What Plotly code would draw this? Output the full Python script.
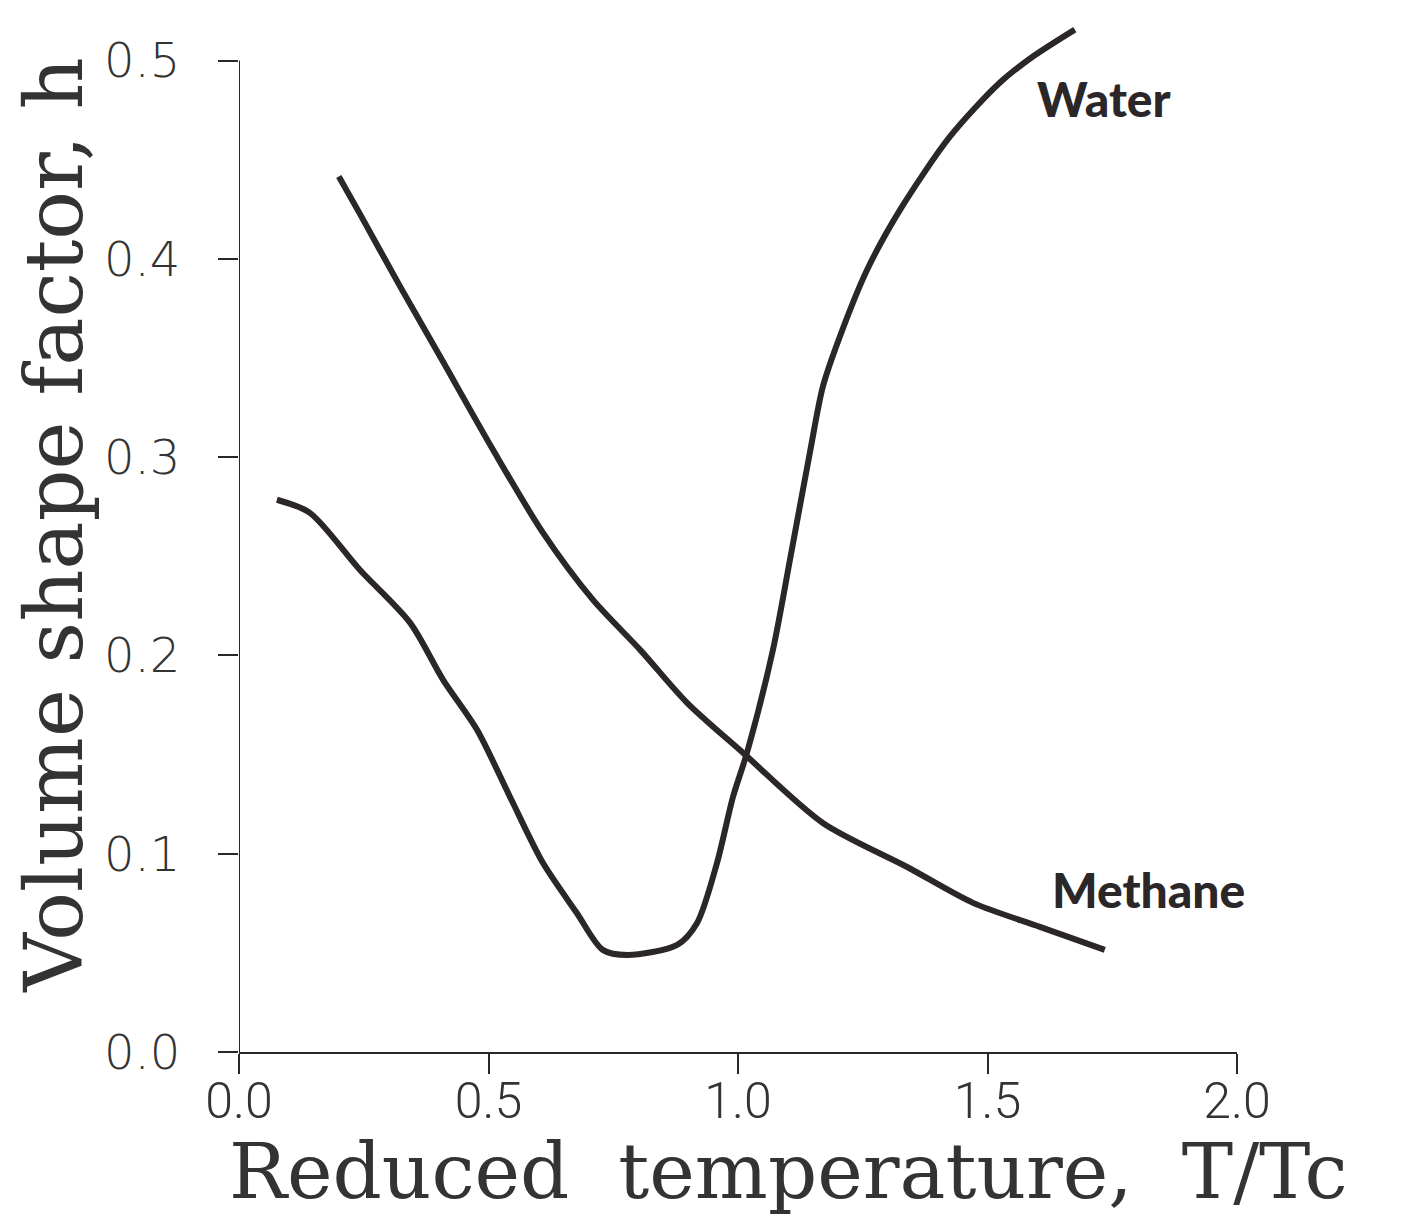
import plotly.graph_objects as go

# Reduced temperature T/Tc and volume shape factor h for each fluid
methane_t = [0.200, 0.242, 0.323, 0.403, 0.509, 0.609, 0.709, 0.804, 0.898,
             1.010, 1.170, 1.339, 1.471, 1.605, 1.735]
methane_h = [0.4415, 0.4228, 0.3860, 0.3507, 0.3037, 0.2619, 0.2281, 0.2028,
             0.1761, 0.1509, 0.1155, 0.0933, 0.0752, 0.0631, 0.0515]

water_t = [0.076, 0.142, 0.242, 0.343, 0.409, 0.477, 0.543, 0.609, 0.677,
           0.729, 0.778, 0.878, 0.918, 0.958, 0.990, 1.018, 1.070,
           1.106, 1.144, 1.170, 1.204, 1.259, 1.325, 1.425, 1.525, 1.591, 1.675]
water_h = [0.2785, 0.2719, 0.2432, 0.2164, 0.1877, 0.1625, 0.1287, 0.0954,
           0.0701, 0.0515, 0.0489, 0.0540, 0.0651, 0.0954, 0.1287, 0.1509,
           0.2028, 0.2508, 0.3022, 0.3355, 0.3607, 0.3946, 0.4248,
           0.4617, 0.4889, 0.5020, 0.5156]

x_ticks = [0.0, 0.5, 1.0, 1.5, 2.0]
x_tick_labels = ["0.0", "0.5", "1.0", "1.5", "2.0"]
y_ticks = [0.0, 0.1, 0.2, 0.3, 0.4, 0.5]
y_tick_labels = ["0.0", "0.1", "0.2", "0.3", "0.4", "0.5"]

INK = "#2b2628"
TEXT = "#333333"

fig = go.Figure()
for t, h in [(methane_t, methane_h), (water_t, water_h)]:
    fig.add_trace(go.Scatter(
        x=t, y=h, mode="lines",
        line=dict(color=INK, width=6, shape="spline", smoothing=0.8),
        showlegend=False, hoverinfo="skip",
    ))

# Curve labels
fig.add_annotation(x=1.733, y=0.481, text="Water", showarrow=False,
                   xanchor="center", yanchor="middle",
                   font=dict(family="Lato", size=48, color=INK, weight=900))
fig.add_annotation(x=1.822, y=0.0822, text="Methane", showarrow=False,
                   xanchor="center", yanchor="middle",
                   font=dict(family="Lato", size=48, color=INK, weight=900))

# Vertical axis line stops at the top tick
fig.add_shape(type="line", xref="x", yref="y", x0=0, x1=0, y0=0, y1=0.5,
              line=dict(color=INK, width=2))

# Axis titles
fig.add_annotation(xref="paper", yref="paper", x=0.551, y=-0.1147,
                   xanchor="center", yanchor="middle",
                   text="Reduced\u00a0 temperature,\u00a0 T/Tc", showarrow=False,
                   font=dict(family="DejaVu Serif", size=77, color=TEXT))
fig.add_annotation(xref="paper", yref="paper", x=-0.1854, y=0.504,
                   xanchor="center", yanchor="middle",
                   text="Volume shape factor, h", textangle=-90, showarrow=False,
                   font=dict(family="DejaVu Serif", size=81, color=TEXT))

fig.update_layout(
    width=1402, height=1227,
    margin=dict(l=239, r=165, t=6, b=175),
    paper_bgcolor="white", plot_bgcolor="white",
    xaxis=dict(range=[0, 2], tickvals=x_ticks, ticktext=x_tick_labels,
               showline=True, linecolor=INK, linewidth=2, showgrid=False,
               zeroline=False, ticks="outside", ticklen=20, tickwidth=2,
               tickcolor=INK, ticklabelstandoff=-16,
               tickfont=dict(family="Liberation Sans Narrow, Roboto", size=50,
                             color=TEXT, weight=300)),
    yaxis=dict(range=[0, 0.5275], tickvals=y_ticks, ticktext=y_tick_labels,
               showline=False, showgrid=False, zeroline=False,
               ticks="outside", ticklen=20, tickwidth=2, tickcolor=INK,
               ticklabelstandoff=28,
               tickfont=dict(family="DejaVu Sans", size=48, color=TEXT,
                             weight=200)),
)

fig.write_html("out.html")
